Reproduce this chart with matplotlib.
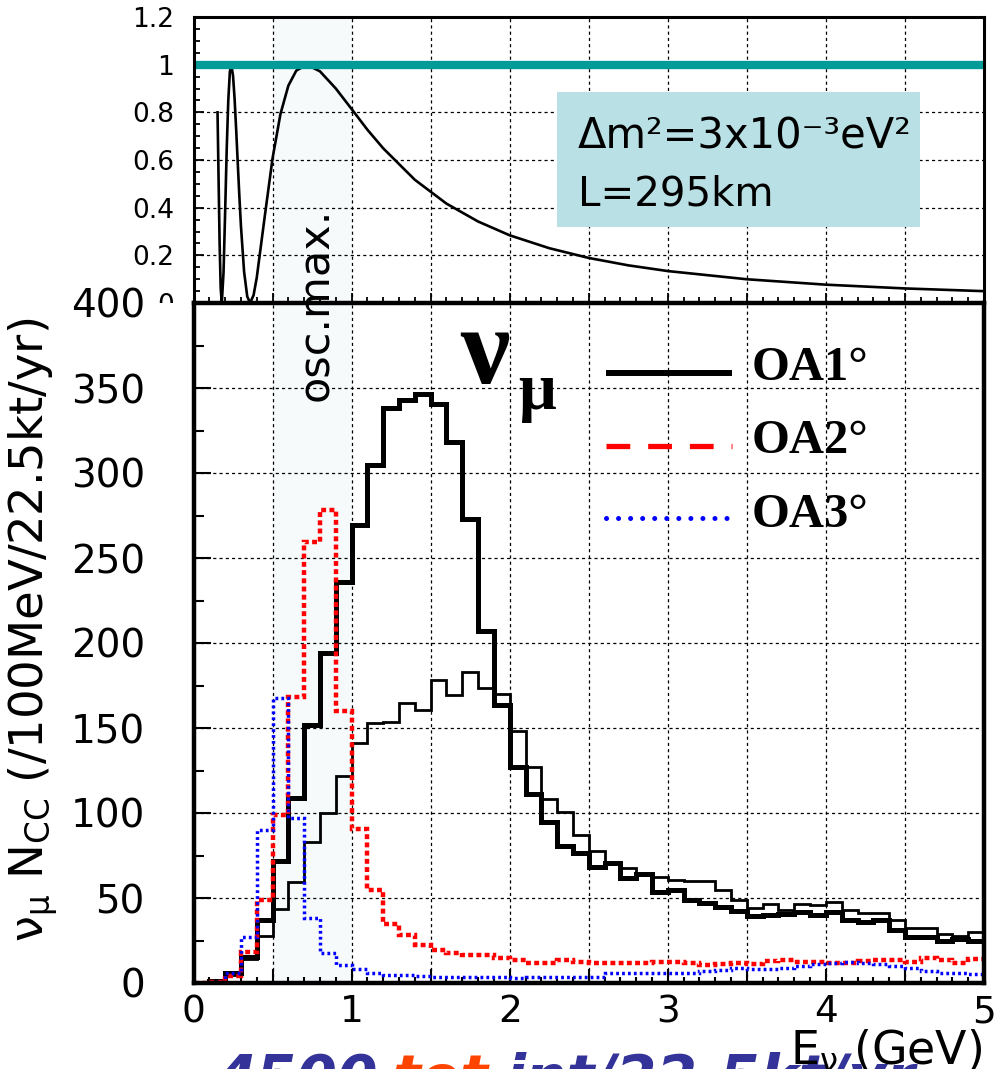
import numpy as np
import matplotlib
matplotlib.use('Agg')
import matplotlib.pyplot as plt
from matplotlib.patches import Rectangle
from matplotlib.lines import Line2D
from matplotlib.ticker import MultipleLocator, FuncFormatter

plt.rcParams['font.family'] = ['DejaVu Sans']
plt.rcParams['mathtext.fontset'] = 'dejavusans'

# ---------------- data ----------------
bin_edges = np.round(np.arange(0, 51) * 0.1, 2)   # E_nu bin edges (GeV), 100 MeV bins

oa1 = [0, 1, 6, 15.5, 37, 72, 109, 151.5, 194, 236,
       269.5, 305, 338, 343, 346.5, 340.5, 318.5, 273, 207, 163.5,
       127, 111, 94.5, 80.6, 76.7, 68.4, 70.8, 61.5, 64, 53.6,
       55, 48.6, 47, 45, 42.3, 39.7, 40, 40.7, 41.7, 40,
       41.7, 36.8, 35.8, 36.8, 31, 27.3, 27, 24.9, 26, 24.5]

oa1_thin = [0, 1, 5, 14, 27.5, 43.5, 59.5, 83, 100, 122,
            141, 153, 153.5, 165, 160.5, 178, 169.5, 182.7, 173.5, 170.2,
            148, 127, 108.3, 100.4, 87.2, 77.7, 69.8, 67.4, 64.8, 62.5,
            60.5, 60, 60, 55, 49, 44, 46.6, 42.7, 46.6, 45.7,
            47.6, 42.7, 41, 41, 37, 32.4, 32.4, 28.9, 27.5, 29.8]

oa2 = [0, 0.5, 4, 18.4, 48.8, 99, 168, 259.6, 278, 160,
       90.4, 54.7, 35, 28, 22.4, 19.4, 17.8, 16.5, 16.5, 14.5,
       13.4, 11.5, 12, 13.4, 12.5, 12, 12, 12, 11.5, 12.5,
       12.5, 11.5, 10.5, 11, 11.5, 11, 13, 13.6, 12.6, 12.5,
       12, 11.5, 13, 13.4, 13.4, 12.5, 14.6, 13.4, 11.5, 14]

oa3 = [0, 0.5, 5.7, 27, 90, 167.5, 97, 38, 17.8, 10.8,
       8.5, 6, 5, 4.5, 4, 3.5, 3.5, 3.5, 3.5, 3.3,
       3.2, 3.6, 3.8, 3.8, 3.8, 3.8, 5.7, 5.7, 5.7, 5.7,
       6.1, 6.1, 7.1, 7.5, 9, 8, 8, 8.7, 10, 11,
       11.7, 12.3, 11.7, 11, 10, 9, 7.1, 6.1, 5.7, 5.5]

osc_E = [0.152, 0.158, 0.165, 0.172, 0.179, 0.19, 0.20, 0.21, 0.22, 0.23,
         0.2386, 0.25, 0.26, 0.27, 0.28, 0.29, 0.30, 0.32, 0.34, 0.358,
         0.38, 0.40, 0.45, 0.50, 0.55, 0.60, 0.65, 0.716, 0.80, 0.90,
         1.0, 1.1, 1.2, 1.4, 1.6, 1.8, 2.0, 2.25, 2.5, 2.75,
         3.0, 3.5, 4.0, 4.5, 5.0]
osc_P = [0.80, 0.546, 0.255, 0.062, 0.0, 0.129, 0.379, 0.644, 0.850, 0.970,
         1.0, 0.954, 0.856, 0.726, 0.586, 0.449, 0.324, 0.131, 0.027, 0.0,
         0.033, 0.106, 0.36, 0.607, 0.793, 0.912, 0.975, 1.0, 0.972, 0.900,
         0.814, 0.727, 0.649, 0.517, 0.417, 0.342, 0.284, 0.230, 0.189, 0.158,
         0.134, 0.0996, 0.0769, 0.0611, 0.0497]
max_prob = 1.0
osc_band = (0.5, 1.0)

legend_labels = ['OA1°', 'OA2°', 'OA3°']
x_tick_vals = [0, 1, 2, 3, 4, 5]

# ---------------- layout helpers ----------------
W, H = 996, 1069
def fx(px):
    return px / W
def fy(py):
    return 1 - py / H

X0, X1 = 193.5, 984.0
YB_BOT, YB_TOP = 983.0, 303.0
YT_TOP = 17.0

fig = plt.figure(figsize=(W / 100, H / 100), dpi=100)
ax_bot = fig.add_axes([fx(X0), fy(YB_BOT), (X1 - X0) / W, (YB_BOT - YB_TOP) / H])
ax_top = fig.add_axes([fx(X0), fy(YB_TOP), (X1 - X0) / W, (YB_TOP - YT_TOP) / H])
ax_top.set_zorder(0)
ax_bot.set_zorder(1)

# white cover (lower pad hides lower half of top-pad '0')
fig.patches.append(Rectangle((0, 0), 1, fy(YB_TOP), transform=fig.transFigure,
                             facecolor='white', edgecolor='none', zorder=0.5))

grid_style = dict(color='black', lw=0.9, linestyle=(0, (2.5, 2.5)))
band_color = '#f6fafa'

# ---------------- bottom panel ----------------
ax = ax_bot
ax.set_xlim(0, 5)
ax.set_ylim(0, 400)
ax.axvspan(*osc_band, color=band_color, lw=0, zorder=0.1)
ax.stairs(oa1_thin, bin_edges, baseline=None, color='black', lw=2.0, zorder=3)
ax.stairs(oa1, bin_edges, baseline=None, color='black', lw=3.6, zorder=3.5)
ax.stairs(oa2, bin_edges, baseline=None, color='#ff0000', lw=3.2,
          linestyle=(0, (1.1, 0.75)), zorder=4)
ax.stairs(oa3, bin_edges, baseline=None, color='#0000ff', lw=2.5,
          linestyle=(0, (0.8, 0.9)), zorder=5)

ax.xaxis.set_major_locator(MultipleLocator(0.5))
ax.xaxis.set_minor_locator(MultipleLocator(0.1))
ax.xaxis.set_major_formatter(FuncFormatter(
    lambda v, p: f'{v:g}' if min(abs(v - t) for t in x_tick_vals) < 1e-6 else ''))
ax.yaxis.set_major_locator(MultipleLocator(50))
ax.yaxis.set_minor_locator(MultipleLocator(25))
ax.set_axisbelow(True)
ax.grid(True, which='major', **grid_style)
ax.tick_params(axis='both', which='both', direction='in', top=False, right=False, width=1.5)
ax.tick_params(axis='x', which='major', length=10, labelsize=27, pad=8)
ax.tick_params(axis='x', which='minor', length=4.5)
ax.tick_params(axis='y', which='major', length=12, labelsize=28, pad=35)
ax.tick_params(axis='y', which='minor', length=7)
for s in ax.spines.values():
    s.set_linewidth(3.2)
    s.set_zorder(10)

ax.set_ylabel(r'$\mathregular{\nu_{\mu}}$ N$_{\mathregular{CC}}$ (/100MeV/22.5kt/yr)',
              fontsize=33.5)
ax.yaxis.set_label_coords((60 - X0) / (X1 - X0), (YB_BOT - 630) / (YB_BOT - YB_TOP))

# legend (drawn manually to match ROOT layout)
def axf(px, py):
    return (px - X0) / (X1 - X0), (YB_BOT - py) / (YB_BOT - YB_TOP)

leg_styles = [
    dict(color='black', lw=4.3, solid_capstyle='butt'),
    dict(color='#ff0000', lw=3.8, linestyle=(0, (4.5, 3.4)), dash_capstyle='butt'),
    dict(color='#0000ff', lw=3.6, linestyle=(0, (0.01, 2.4)), dash_capstyle='round'),
]
leg_line_y = [372.7, 446, 518]
leg_text_y = [380, 453, 527]
for lab, st, ly, ty in zip(legend_labels, leg_styles, leg_line_y, leg_text_y):
    xa, ya = axf(606, ly)
    xb, _ = axf(732, ly)
    ax.add_line(Line2D([xa, xb], [ya, ya], transform=ax.transAxes, clip_on=False,
                       zorder=6, **st))
    tx, tyy = axf(752, ty)
    ax.text(tx, tyy, lab, transform=ax.transAxes, fontsize=35, weight='bold',
            family=['Liberation Serif', 'DejaVu Serif'], va='baseline', ha='left', zorder=6)

# ---------------- top panel ----------------
ax = ax_top
ax.set_xlim(0, 5)
ax.set_ylim(0, 1.2)
ax.axvspan(*osc_band, color=band_color, lw=0, zorder=0.1)
ax.plot(osc_E, osc_P, color='black', lw=1.9, zorder=3)
ax.axhline(max_prob, color='#009b98', lw=6, zorder=4)
ax.xaxis.set_major_locator(MultipleLocator(0.5))
ax.xaxis.set_minor_locator(MultipleLocator(0.1))
ax.yaxis.set_major_locator(MultipleLocator(0.2))
ax.yaxis.set_minor_locator(MultipleLocator(0.05))
ax.yaxis.set_major_formatter(FuncFormatter(lambda v, p: f'{round(v, 2):g}'))
ax.set_axisbelow(True)
ax.grid(True, which='major', **grid_style)
ax.tick_params(axis='both', which='both', direction='in', top=False, right=False, width=1.3)
ax.tick_params(axis='x', which='both', labelbottom=False)
ax.tick_params(axis='x', which='major', length=7)
ax.tick_params(axis='x', which='minor', length=4)
ax.tick_params(axis='y', which='major', length=7, labelsize=19, pad=14)
ax.tick_params(axis='y', which='minor', length=4.5)
for s in ax.spines.values():
    s.set_linewidth(2.2)
    s.set_zorder(10)

bx0 = (557 - X0) / (X1 - X0)
bx1 = (920 - X0) / (X1 - X0)
by0 = (YB_TOP - 227) / (YB_TOP - YT_TOP)
by1 = (YB_TOP - 92) / (YB_TOP - YT_TOP)
ax.add_patch(Rectangle((bx0, by0), bx1 - bx0, by1 - by0, transform=ax.transAxes,
                       facecolor='#b9e0e4', edgecolor='none', zorder=5))
fig.text(fx(578), fy(149), 'Δm²=3x10⁻³eV²',
         fontsize=30, va='baseline', ha='left', zorder=12)
fig.text(fx(578), fy(206), 'L=295km', fontsize=29, va='baseline', ha='left', zorder=12)

# ---------------- annotations ----------------
fig.text(fx(316), fy(304.5), 'osc.max.', rotation=90, ha='center', va='center',
         fontsize=31, zorder=12)
fig.text(fx(460), fy(383), 'ν', fontsize=80, weight='bold',
         family=['Liberation Serif', 'DejaVu Serif'], va='baseline', ha='left', zorder=12)
fig.text(fx(518), fy(409), 'μ', fontsize=48, weight='bold',
         family=['Liberation Serif', 'DejaVu Serif'], va='baseline', ha='left', zorder=12)

fig.text(fx(982), fy(1064), r'E$_{\mathregular{\nu}}$ (GeV)', ha='right', va='baseline',
         fontsize=33, zorder=12)

# clipped slide text at the very bottom (only the top part is visible)
bt = dict(fontsize=42, weight='bold', style='italic', va='baseline', ha='left', zorder=11)
fig.text(fx(215), fy(1097), '4500', color='#333399', **bt)
fig.text(fx(392), fy(1097), 'tot.', color='#ff4400', **bt)
fig.text(fx(505), fy(1097), 'int/22.5kt/yr', color='#333399', **bt)

fig.savefig('out.png', dpi=100)
